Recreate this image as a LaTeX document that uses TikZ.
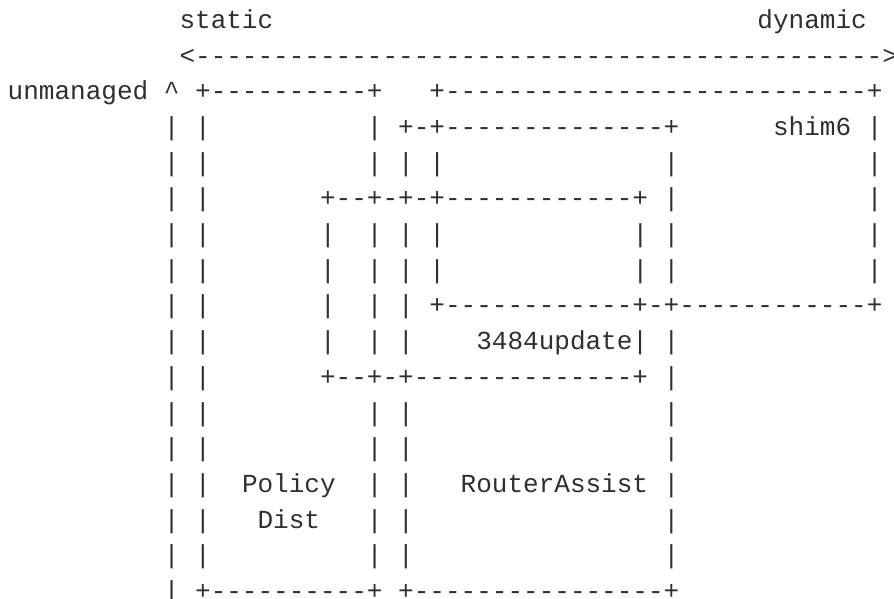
\documentclass[tikz,border=0pt]{standalone}
\usepackage{fontspec}
\setmonofont{Liberation Mono}
\definecolor{ink}{HTML}{2C2F34}
% character grid: column pitch and row pitch in px (1px = 1pt here)
\newcommand\cw{15.62}
\newcommand\rh{35.7}
\tikzset{
  glyphs/.style={font=\ttfamily\fontsize{26.03}{35.7}\selectfont, text=ink,
                 anchor=base west, inner sep=0pt, outer sep=0pt},
}
% \seg{name}{row}{column}{text}: a run of characters starting at a grid cell
\newcommand\seg[4]{\node[glyphs] (#1) at ({7.7+#3*\cw},{28.3+(#2-1)*\rh}) {#4};}
\begin{document}
\begin{tikzpicture}[x=1pt,y=-1pt]
\useasboundingbox (0,0) rectangle (894,598);
% axis labels and arrow
\seg{lstatic}{1}{11}{static}
\seg{ldynamic}{1}{48}{dynamic}
\seg{axis}{2}{11}{<-------------------------------------------->}
% row 3
\seg{lunmanaged}{3}{0}{unmanaged}
\seg{caret}{3}{10}{\^{}}
\seg{pdtop}{3}{12}{+----------+}
\seg{shimtop}{3}{27}{+---------------------------+}
% row 4
\seg{ratop}{4}{25}{+-+--------------+}
\seg{lshim}{4}{49}{shim6}
% row 6
\seg{updtop}{6}{20}{+--+-+-+------------+}
% row 9
\seg{shimbot}{9}{27}{+------------+-+------------+}
% row 10
\seg{lupdate}{10}{30}{3484update|}
% row 11
\seg{updbot}{11}{20}{+--+-+--------------+}
% rows 14, 15
\seg{lpolicy}{14}{15}{Policy}
\seg{lrouter}{14}{29}{RouterAssist}
\seg{ldist}{15}{16}{Dist}
% row 17
\seg{pdbot}{17}{12}{+----------+}
\seg{rabot}{17}{25}{+----------------+}
% vertical bars: row/column list
\foreach \r/\cols in {
  4/{10,12,23,55},
  5/{10,12,23,25,27,42,55},
  6/{10,12,42,55},
  7/{10,12,20,23,25,27,40,42,55},
  8/{10,12,20,23,25,27,40,42,55},
  9/{10,12,20,23,25},
  10/{10,12,20,23,25,42},
  11/{10,12,42},
  12/{10,12,23,25,42},
  13/{10,12,23,25,42},
  14/{10,12,23,25,42},
  15/{10,12,23,25,42},
  16/{10,12,23,25,42},
  17/{10}}{
  \foreach \c in \cols {\seg{bar-\r-\c}{\r}{\c}{|}}
}
\end{tikzpicture}
\end{document}
